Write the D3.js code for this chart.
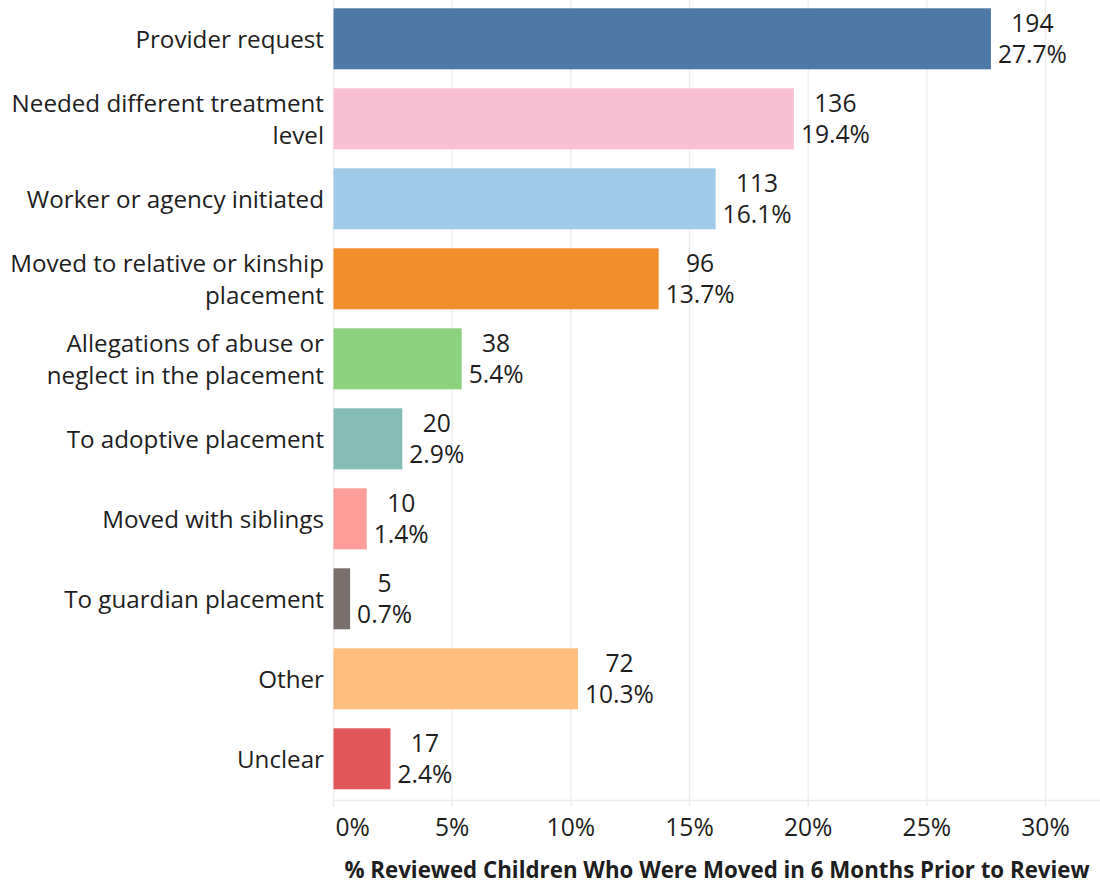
<!DOCTYPE html>
<html><head><meta charset="utf-8">
<script src="https://cdn.jsdelivr.net/npm/d3@7"></script>
<style>
body{margin:0;background:#fff;}
text{font-family:"Open Sans", "Noto Sans", sans-serif;fill:#1e1e1e;}
</style></head>
<body>
<svg id="chart" width="1100" height="886"></svg>
<script>
const categories = [
  ["Provider request"],
  ["Needed different treatment", "level"],
  ["Worker or agency initiated"],
  ["Moved to relative or kinship", "placement"],
  ["Allegations of abuse or", "neglect in the placement"],
  ["To adoptive placement"],
  ["Moved with siblings"],
  ["To guardian placement"],
  ["Other"],
  ["Unclear"]
];
const counts = [194, 136, 113, 96, 38, 20, 10, 5, 72, 17];
const percents = [27.7, 19.4, 16.1, 13.7, 5.4, 2.9, 1.4, 0.7, 10.3, 2.4];
const colors = ["#4e79a7", "#f9bfd3", "#a0cbe8", "#f28e2b", "#8cd17d", "#86bcb6", "#ff9d9a", "#79706e", "#ffbe7d", "#e15759"];
const xTicks = [0, 5, 10, 15, 20, 25, 30];
const axisTitle = "% Reviewed Children Who Were Moved in 6 Months Prior to Review";

const svg = d3.select("#chart");
const FS = 24.2;
const FSV = 24.6;
const x = d3.scaleLinear().domain([0, 30]).range([333.5, 1045.5]);
const y = d3.scaleBand().domain(d3.range(categories.length)).range([-1.2, 798.8])
  .paddingInner(0.2375).paddingOuter(0.11875);

// gridlines
svg.append("g").selectAll("line").data(xTicks).join("line")
  .attr("x1", d => x(d)).attr("x2", d => x(d))
  .attr("y1", 0).attr("y2", 807)
  .attr("stroke", "#ececec").attr("stroke-width", 1.3);
svg.append("line").attr("x1", 333.5).attr("x2", 1100).attr("y1", 800.5).attr("y2", 800.5)
  .attr("stroke", "#ececec").attr("stroke-width", 1.3);

// bars
svg.append("g").selectAll("rect").data(counts).join("rect")
  .attr("x", x(0)).attr("y", (d, i) => y(i))
  .attr("width", (d, i) => x(percents[i]) - x(0))
  .attr("height", y.bandwidth())
  .attr("fill", (d, i) => colors[i]);

// category labels
const cat = svg.append("g").selectAll("text").data(categories).join("text")
  .attr("text-anchor", "end").attr("font-size", FS);
cat.each(function(lines, i) {
  const cy = y(i) + y.bandwidth() / 2;
  const t = d3.select(this);
  const lh = 32;
  lines.forEach((ln, j) => {
    t.append("tspan").attr("x", 324)
      .attr("y", cy + 9 + (j - (lines.length - 1) / 2) * lh)
      .text(ln);
  });
});

// value labels
const vg = svg.append("g");
counts.forEach((c, i) => {
  const cy = y(i) + y.bandwidth() / 2;
  const g = vg.append("g");
  const t1 = g.append("text").attr("font-size", FSV).attr("text-anchor", "middle")
    .attr("y", cy - 7).text(c);
  const t2 = g.append("text").attr("font-size", FSV).attr("text-anchor", "middle")
    .attr("y", cy + 24).text(percents[i].toFixed(1) + "%");
  const w = Math.max(t1.node().getComputedTextLength(), t2.node().getComputedTextLength());
  const cx = x(percents[i]) + 7 + w / 2;
  t1.attr("x", cx); t2.attr("x", cx);
});

// tick labels
svg.append("g").selectAll("text").data(xTicks).join("text")
  .attr("font-size", FSV)
  .attr("text-anchor", d => d === 0 ? "start" : "middle")
  .attr("x", d => d === 0 ? x(d) + 2 : x(d))
  .attr("y", 836)
  .text(d => d + "%");

// axis title
svg.append("text").attr("font-size", 22.3).attr("font-weight", "bold")
  .attr("text-anchor", "middle").attr("x", 717).attr("y", 878).text(axisTitle);
</script>
</body></html>
